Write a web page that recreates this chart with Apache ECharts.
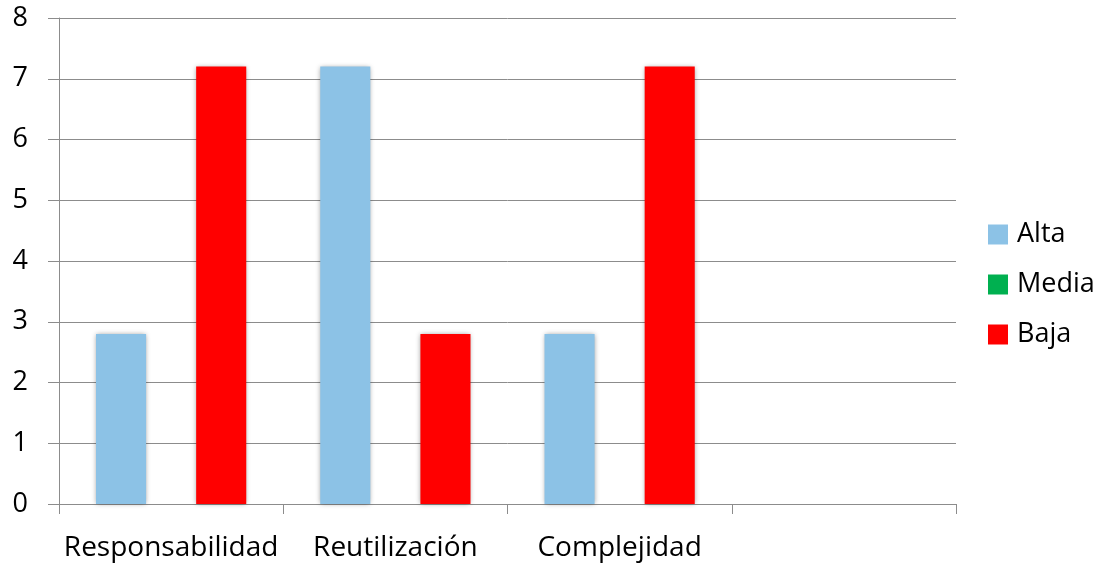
<!DOCTYPE html>
<html>
<head>
<meta charset="utf-8">
<script src="https://cdn.jsdelivr.net/npm/echarts@6/dist/echarts.min.js"></script>
<style>
  html, body { margin: 0; padding: 0; background: #ffffff; }
  #chart { width: 1105px; height: 565px; }
</style>
</head>
<body>
<div id="chart"></div>
<script>
// Categories (the fourth slot is left empty on the axis)
const categories = ['Responsabilidad', 'Reutilización', 'Complejidad', ''];
// Series values per level
const alta  = [2.8, 7.2, 2.8, null];
const media = [0, 0, 0, null];
const baja  = [7.2, 2.8, 7.2, null];
// Y-axis range
const yMin = 0, yMax = 8, yStep = 1;

const FONT = 'Open Sans';
const barShadow = {
  shadowColor: 'rgba(0,0,0,0.4)',
  shadowBlur: 5,
  shadowOffsetX: 0,
  shadowOffsetY: 0
};

const chart = echarts.init(document.getElementById('chart'));
chart.setOption({
  animation: false,
  backgroundColor: '#ffffff',
  textStyle: { fontFamily: FONT, color: '#000' },
  grid: { left: 59, right: 149, top: 18, bottom: 61, containLabel: false },
  legend: {
    orient: 'vertical',
    left: 983,
    top: 216,
    itemWidth: 20,
    itemHeight: 20,
    itemGap: 23,
    icon: 'rect',
    textStyle: { fontFamily: FONT, fontSize: 27, color: '#000', padding: [0, 0, 0, 4] },
    data: ['Alta', 'Media', 'Baja']
  },
  xAxis: {
    type: 'category',
    data: categories,
    axisLine: { lineStyle: { color: '#8c8c8c', width: 1 } },
    axisTick: { show: true, length: 10, alignWithLabel: false, lineStyle: { color: '#8c8c8c' } },
    axisLabel: { fontFamily: FONT, fontSize: 28, color: '#000', margin: 30, interval: 0 }
  },
  yAxis: {
    type: 'value',
    min: yMin, max: yMax, interval: yStep,
    axisLine: { show: true, lineStyle: { color: '#8c8c8c', width: 1 } },
    axisTick: { show: true, length: 11, lineStyle: { color: '#8c8c8c' } },
    splitLine: { show: true, lineStyle: { color: '#8c8c8c', width: 1 } },
    axisLabel: { fontFamily: FONT, fontSize: 27, color: '#000', margin: 31 }
  },
  series: [
    { name: 'Alta', type: 'bar', data: alta, barGap: '0%', barCategoryGap: '33%',
      itemStyle: Object.assign({ color: '#8cc2e6' }, barShadow) },
    { name: 'Media', type: 'bar', data: media,
      itemStyle: { color: '#00b050' } },
    { name: 'Baja', type: 'bar', data: baja,
      itemStyle: Object.assign({ color: '#ff0000' }, barShadow) }
  ]
});
</script>
</body>
</html>
